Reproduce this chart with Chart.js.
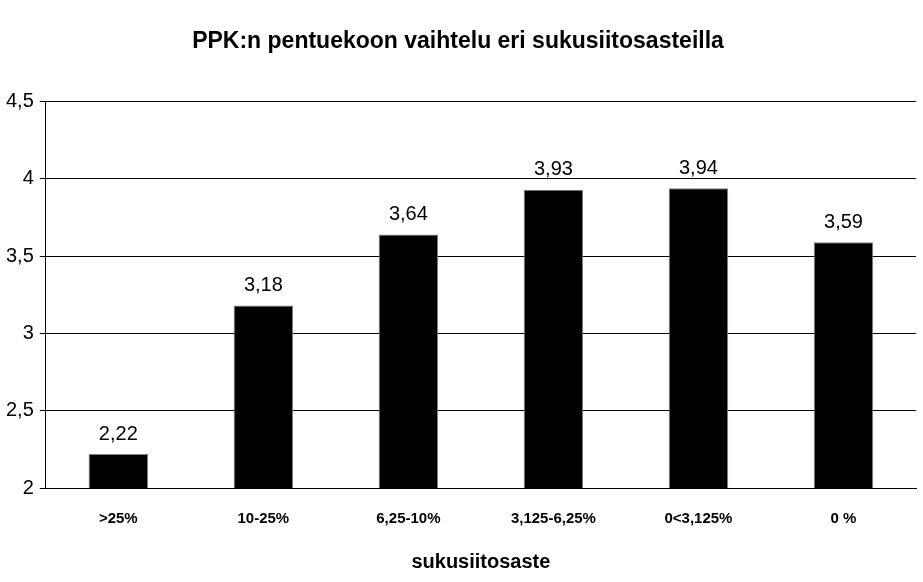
<!DOCTYPE html>
<html><head><meta charset="utf-8">
<script src="https://cdn.jsdelivr.net/npm/chart.js@4"></script>
<style>html,body{margin:0;background:#fff}#w{width:923px;height:582px}</style>
</head><body><div id="w"><canvas id="c"></canvas></div>
<script>
const categories = [">25%", "10-25%", "6,25-10%", "3,125-6,25%", "0<3,125%", "0 %"];
const values = [2.22, 3.18, 3.64, 3.93, 3.94, 3.59];
const yTicks = [2, 2.5, 3, 3.5, 4, 4.5];
const fmt = v => String(v).replace('.', ',');
const labelPlugin = {
  id: 'lbl',
  afterDatasetsDraw(chart) {
    const ctx = chart.ctx;
    const meta = chart.getDatasetMeta(0);
    ctx.save();
    ctx.font = '20px Arial, "Liberation Sans"';
    ctx.fillStyle = '#000';
    ctx.textAlign = 'center';
    ctx.textBaseline = 'bottom';
    meta.data.forEach((b, i) => ctx.fillText(fmt(values[i].toFixed(2)), b.x, b.y - 10));
    ctx.restore();
  }
};
new Chart(document.getElementById('c'), {
  type: 'bar',
  data: { labels: categories, datasets: [{ data: values, backgroundColor: '#000', borderColor: '#808080', borderWidth: 1, barPercentage: 0.41, categoryPercentage: 1 }] },
  options: {
    responsive: true, maintainAspectRatio: false, animation: false,
    layout: { padding: { left: 0, right: 7, top: 0, bottom: 4 } },
    plugins: {
      legend: { display: false }, tooltip: { enabled: false },
      title: { display: true, text: 'PPK:n pentuekoon vaihtelu eri sukusiitosasteilla', color: '#000',
        font: { family: 'Arial, "Liberation Sans"', size: 23, weight: 'bold' }, padding: { top: 28, bottom: 46 } }
    },
    scales: {
      x: {
        grid: { display: false }, border: { color: '#000', width: 1 },
        ticks: { color: '#000', font: { family: 'Arial, "Liberation Sans"', size: 15, weight: 'bold' }, padding: 14 },
        title: { display: true, text: 'sukusiitosaste', color: '#000', font: { family: 'Arial, "Liberation Sans"', size: 20, weight: 'bold' }, padding: { top: 8 } }
      },
      y: {
        min: 2, max: 4.5,
        afterBuildTicks: ax => { ax.ticks = yTicks.map(v => ({ value: v })); },
        grid: { color: '#000', lineWidth: 1, drawTicks: true, tickLength: 6 },
        border: { color: '#000', width: 1 },
        ticks: { color: '#000', font: { family: 'Arial, "Liberation Sans"', size: 20 }, padding: 6, callback: v => fmt(v) }
      }
    }
  },
  plugins: [labelPlugin]
});
</script></body></html>
